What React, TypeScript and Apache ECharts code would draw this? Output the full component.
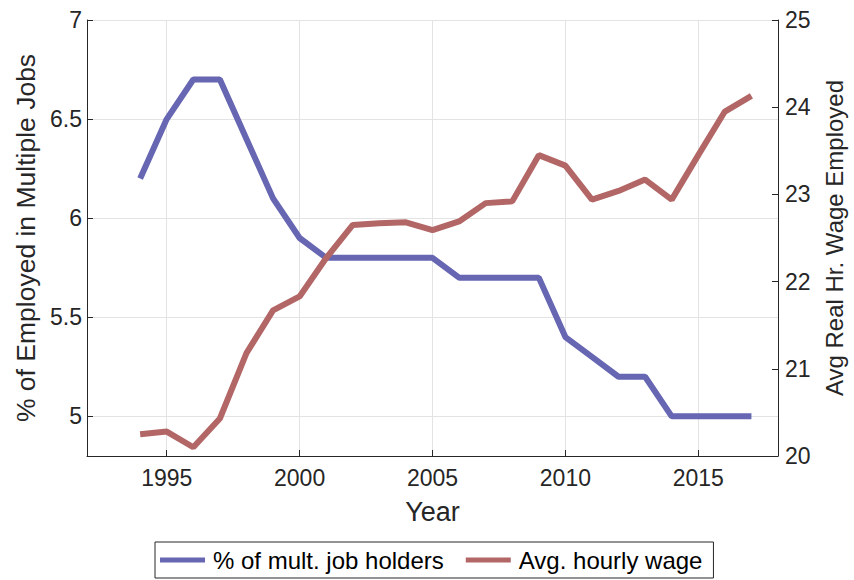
import React, { useEffect, useRef } from "react";
import * as echarts from "echarts";

const years = [1994, 1995, 1996, 1997, 1998, 1999, 2000, 2001, 2002, 2003, 2004, 2005, 2006, 2007, 2008, 2009, 2010, 2011, 2012, 2013, 2014, 2015, 2016, 2017];
const multJobHolders = [6.2, 6.5, 6.7, 6.7, 6.4, 6.1, 5.9, 5.8, 5.8, 5.8, 5.8, 5.8, 5.7, 5.7, 5.7, 5.7, 5.4, 5.3, 5.2, 5.2, 5.0, 5.0, 5.0, 5.0];
const hourlyWage = [20.25, 20.28, 20.1, 20.43, 21.18, 21.67, 21.83, 22.27, 22.65, 22.67, 22.68, 22.59, 22.69, 22.9, 22.92, 23.45, 23.33, 22.94, 23.04, 23.17, 22.94, 23.45, 23.95, 24.13];
const axisYears = Array.from({ length: 27 }, (_, i) => String(1992 + i));
const leftTicks = [5, 5.5, 6, 6.5, 7];

const FONT = "'Liberation Sans', Arial, Helvetica, sans-serif";
const AXIS_COLOR = "#262626";

export default function App() {
  const ref = useRef<HTMLDivElement>(null);
  useEffect(() => {
    if (!ref.current) return;
    const chart = echarts.init(ref.current, null, { renderer: "svg" });
    const toPairs = (vals: number[]) => years.map((y, i) => [axisYears.indexOf(String(y)), vals[i]]);
    chart.setOption({
      animation: false,
      textStyle: { fontFamily: FONT },
      grid: { left: 87, right: 73, top: 20, bottom: 124, containLabel: false },
      legend: {
        bottom: 2,
        left: 155,
        icon: "rect",
        itemWidth: 45,
        itemHeight: 5,
        itemGap: 22,
        padding: [6, 11, 6, 5],
        borderColor: AXIS_COLOR,
        borderWidth: 1,
        textStyle: { fontSize: 24, color: "#000", fontFamily: FONT, padding: [0, 0, 0, 3] },
        data: ["% of mult. job holders", "Avg. hourly wage"],
      },
      xAxis: {
        type: "category",
        data: axisYears,
        boundaryGap: false,
        name: "Year",
        nameLocation: "middle",
        nameGap: 42,
        nameTextStyle: { fontSize: 27, color: AXIS_COLOR, fontFamily: FONT },
        axisLine: { lineStyle: { color: AXIS_COLOR, width: 1 } },
        axisTick: {
          inside: true,
          length: 6,
          interval: (idx: number, v: string) => Number(v) % 5 === 0,
          lineStyle: { color: AXIS_COLOR },
        },
        axisLabel: {
          interval: (idx: number, v: string) => Number(v) % 5 === 0,
          fontSize: 23,
          color: AXIS_COLOR,
          margin: 10,
          fontFamily: FONT,
        },
        splitLine: {
          show: true,
          interval: (idx: number, v: string) => Number(v) % 5 === 0,
          lineStyle: { color: "#e3e3e3", width: 1 },
        },
      },
      yAxis: [
        {
          type: "value",
          min: 4.8,
          max: 7,
          position: "left",
          name: "% of Employed in Multiple Jobs",
          nameLocation: "middle",
          nameGap: 47,
          nameRotate: 90,
          nameTextStyle: { fontSize: 26.5, color: AXIS_COLOR, fontFamily: FONT },
          axisLine: { show: true, lineStyle: { color: AXIS_COLOR, width: 1 } },
          axisTick: { show: true, inside: true, length: 6, customValues: leftTicks, lineStyle: { color: AXIS_COLOR } },
          axisLabel: { customValues: leftTicks, fontSize: 23, color: AXIS_COLOR, margin: 5, fontFamily: FONT },
          splitLine: { show: true, lineStyle: { color: "#e3e3e3", width: 1 } },
        },
        {
          type: "value",
          min: 20,
          max: 25,
          interval: 1,
          position: "right",
          name: "Avg Real Hr. Wage Employed",
          nameLocation: "middle",
          nameGap: 44,
          nameRotate: 90,
          nameTextStyle: { fontSize: 24, color: AXIS_COLOR, fontFamily: FONT },
          axisLine: { show: true, lineStyle: { color: AXIS_COLOR, width: 1 } },
          axisTick: { show: true, inside: true, length: 6, lineStyle: { color: AXIS_COLOR } },
          axisLabel: { fontSize: 23, color: AXIS_COLOR, margin: 7, fontFamily: FONT },
          splitLine: { show: false },
        },
      ],
      series: [
        {
          name: "% of mult. job holders",
          type: "line",
          yAxisIndex: 0,
          data: toPairs(multJobHolders),
          showSymbol: false,
          symbol: "none",
          lineStyle: { color: "#6666b3", width: 6 },
          itemStyle: { color: "#6666b3" },
        },
        {
          name: "Avg. hourly wage",
          type: "line",
          yAxisIndex: 1,
          data: toPairs(hourlyWage),
          showSymbol: false,
          symbol: "none",
          lineStyle: { color: "#b36666", width: 6 },
          itemStyle: { color: "#b36666" },
        },
      ],
    });
    return () => chart.dispose();
  }, []);
  return <div ref={ref} style={{ width: 854, height: 580, position: "absolute", left: 0, top: 0, background: "#fff" }} />;
}
